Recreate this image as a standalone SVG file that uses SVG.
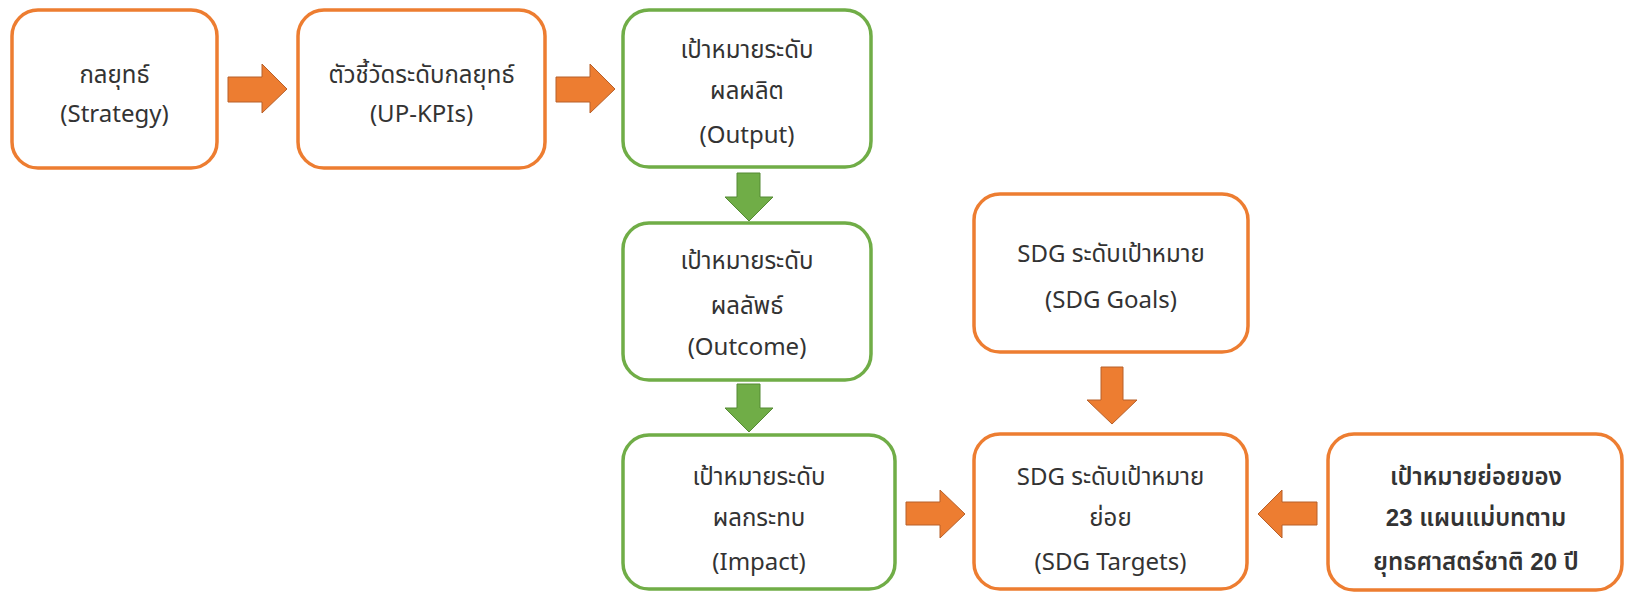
<svg xmlns="http://www.w3.org/2000/svg" width="1625" height="592" viewBox="0 0 1625 592">
  <style>
    .box { fill: #ffffff; stroke-width: 3.5; }
    .orange { stroke: #ED7D31; }
    .green { stroke: #70AD47; }
    .arrow-o { fill: #ED7D31; stroke: #B7602A; stroke-width: 1; }
    .arrow-g { fill: #70AD47; stroke: #558A35; stroke-width: 1; }
    text { font-family: "Noto Sans", "Noto Sans Thai", "Leelawadee UI", Tahoma, sans-serif; font-size: 24px; fill: #333333; text-anchor: middle; }
    .plan { font-family: "Liberation Sans", Tahoma, "Noto Sans Thai", sans-serif; font-weight: 600; }
  </style>
  <rect width="1625" height="592" fill="#ffffff"/>

  <g id="connectors">
    <!-- horizontal chain: strategy -> UP-KPIs -> output -->
    <polygon class="arrow-o" points="228,77 262,77 262,64 287,89 262,113 262,102 228,102"/>
    <polygon class="arrow-o" points="556,77 590,77 590,64 615,89 590,113 590,102 556,102"/>
    <!-- output -> outcome -> impact -->
    <polygon class="arrow-g" points="737,173 760,173 760,197 773,197 749,221 725,197 737,197"/>
    <polygon class="arrow-g" points="737,384 760,384 760,408 773,408 749,432 725,408 737,408"/>
    <!-- goals -> targets -->
    <polygon class="arrow-o" points="1101,367 1123,367 1123,400 1137,400 1112,424 1087,400 1101,400"/>
    <!-- impact -> targets -->
    <polygon class="arrow-o" points="906,502 940,502 940,490 965,514 940,538 940,525 906,525"/>
    <!-- national plan -> targets -->
    <polygon class="arrow-o" points="1317,502 1282,502 1282,490 1258,514 1282,538 1282,525 1317,525"/>
  </g>

  <g id="strategy">
    <rect class="box orange" x="12" y="10" width="205" height="158" rx="26"/>
    <text x="114.5" y="83">กลยุทธ์</text>
    <text x="114.5" y="122">(Strategy)</text>
  </g>

  <g id="up-kpis">
    <rect class="box orange" x="298" y="10" width="247" height="158" rx="26"/>
    <text x="421.5" y="83">ตัวชี้วัดระดับกลยุทธ์</text>
    <text x="421.5" y="122">(UP-KPIs)</text>
  </g>

  <g id="output">
    <rect class="box green" x="623" y="10" width="248" height="157" rx="26"/>
    <text x="747" y="58">เป้าหมายระดับ</text>
    <text x="747" y="99">ผลผลิต</text>
    <text x="747" y="143">(Output)</text>
  </g>

  <g id="outcome">
    <rect class="box green" x="623" y="223" width="248" height="157" rx="26"/>
    <text x="747" y="269">เป้าหมายระดับ</text>
    <text x="747" y="314">ผลลัพธ์</text>
    <text x="747" y="355">(Outcome)</text>
  </g>

  <g id="impact">
    <rect class="box green" x="623" y="435" width="272" height="154" rx="26"/>
    <text x="759" y="485">เป้าหมายระดับ</text>
    <text x="759" y="526">ผลกระทบ</text>
    <text x="759" y="570">(Impact)</text>
  </g>

  <g id="sdg-goals">
    <rect class="box orange" x="974" y="194" width="274" height="158" rx="26"/>
    <text x="1111" y="262">SDG ระดับเป้าหมาย</text>
    <text x="1111" y="308">(SDG Goals)</text>
  </g>

  <g id="sdg-targets">
    <rect class="box orange" x="974" y="434" width="273" height="155" rx="26"/>
    <text x="1110.5" y="485">SDG ระดับเป้าหมาย</text>
    <text x="1110.5" y="526">ย่อย</text>
    <text x="1110.5" y="570">(SDG Targets)</text>
  </g>

  <g id="national-plan">
    <rect class="box orange" x="1328" y="434" width="294" height="156" rx="26"/>
    <text class="plan" x="1476" y="485">เป้าหมายย่อยของ</text>
    <text class="plan" x="1476" y="526">23 แผนแม่บทตาม</text>
    <text class="plan" x="1476" y="570">ยุทธศาสตร์ชาติ 20 ปี</text>
  </g>
</svg>
